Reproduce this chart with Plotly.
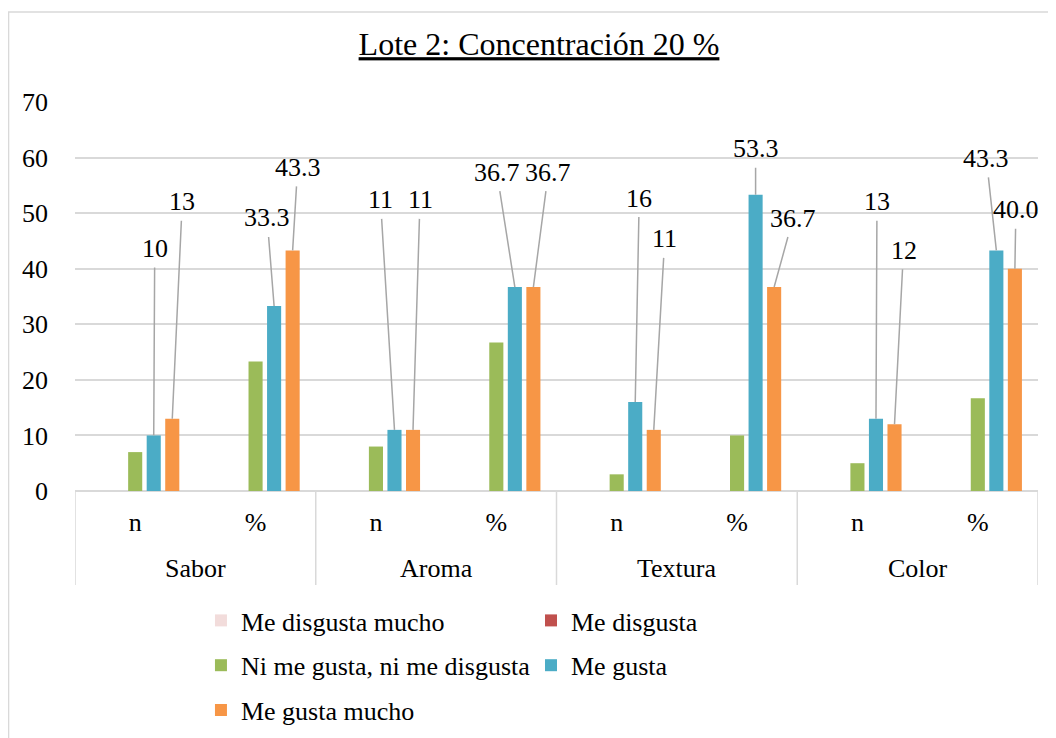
import plotly.graph_objects as go

# ---------------- data ----------------
attributes = ["Sabor", "Aroma", "Textura", "Color"]
measures = ["n", "%"]
series_names = ["Me disgusta mucho", "Me disgusta", "Ni me gusta, ni me disgusta",
                "Me gusta", "Me gusta mucho"]

me_disgusta_mucho = [0, 0, 0, 0, 0, 0, 0, 0]
me_disgusta = [0, 0, 0, 0, 0, 0, 0, 0]
ni_me_gusta = [7, 23.3, 8, 26.7, 3, 10.0, 5, 16.7]
me_gusta = [10, 33.3, 11, 36.7, 16, 53.3, 13, 43.3]
me_gusta_mucho = [13, 43.3, 11, 36.7, 11, 36.7, 12, 40.0]

# ---------------- styles ----------------
colors = ["#F2DCDB", "#C0504D", "#9BBB59", "#4BACC6", "#F79646"]
legend_ids = ["legend", "legend2", "legend", "legend2", "legend"]
labelled = [False, False, False, True, True]
# pixel offsets (dx, dy) of each data label from its bar top
label_offsets = {
    3: [(1, -187), (-7, -88), (-14, -230), (-18, -115), (4, -204), (0, -46), (1, -217), (-10, -92)],
    4: [(10, -217), (5, -83), (7, -230), (15, -115), (11, -191), (19, -69), (9, -174), (1, -59)],
}

FONT = "Liberation Serif"
TXT = "#000000"
GRID = "#D9D9D9"
bargap = 0.23
n_series = len(series_names)
PAGE_OFFSET = 8  # default body margin of the html page

all_values = [me_disgusta_mucho, me_disgusta, ni_me_gusta, me_gusta, me_gusta_mucho]
n_cat = len(attributes) * len(measures)
xs = list(range(n_cat))
tick_text = [m for _ in attributes for m in measures]

fig = go.Figure()
for j, (name, vals) in enumerate(zip(series_names, all_values)):
    fig.add_trace(go.Bar(
        x=xs, y=vals, name=name,
        marker=dict(color=colors[j], line=dict(width=0)),
        legend=legend_ids[j], legendgroup=name,
        hoverinfo="x+y+name",
    ))

# data labels with leader lines
slot = (1 - bargap) / n_series
annotations = []
for j in range(n_series):
    if not labelled[j]:
        continue
    offset = -(1 - bargap) / 2 + slot * (j + 0.5)
    for i, v in enumerate(all_values[j]):
        txt = f"{v:.0f}" if tick_text[i] == "n" else f"{v:.1f}"
        dx, dy = label_offsets[j][i]
        annotations.append(dict(
            x=i + offset, y=v, xref="x", yref="y",
            text=txt, showarrow=True, arrowhead=0, arrowwidth=1.5,
            arrowcolor="#A6A6A6", ax=dx, ay=dy, axref="pixel", ayref="pixel",
            borderpad=4, font=dict(family=FONT, size=26, color=TXT),
        ))

# group labels beneath the axis
for k, a in enumerate(attributes):
    annotations.append(dict(
        x=k * len(measures) + (len(measures) - 1) / 2, y=-0.2, xref="x", yref="paper",
        text=a, showarrow=False, yanchor="middle", xanchor="center",
        font=dict(family=FONT, size=26, color=TXT),
    ))

shapes = []
# table dividers
for k in range(len(attributes) + 1):
    xv = k * len(measures) - 0.5
    shapes.append(dict(type="line", xref="x", yref="paper", x0=xv, x1=xv,
                       y0=0, y1=-0.2416, line=dict(color=GRID, width=1.5)))
# outer chart border
shapes.append(dict(type="rect", xref="paper", yref="paper",
                   x0=-0.069, x1=1.03, y0=-0.66, y1=1.2314,
                   line=dict(color=GRID, width=1.5), fillcolor="rgba(0,0,0,0)",
                   layer="below"))

W, H = 1056 - PAGE_OFFSET, 738 - PAGE_OFFSET
fig.update_layout(
    width=W, height=H,
    margin=dict(l=75 - PAGE_OFFSET, r=18, t=102 - PAGE_OFFSET, b=247, autoexpand=False),
    paper_bgcolor="white", plot_bgcolor="white",
    barmode="group", bargap=bargap, bargroupgap=0.24,
    font=dict(family=FONT, size=26, color=TXT),
    title=dict(text="<u>Lote 2: Concentración 20 %</u>",
               x=(539 - PAGE_OFFSET) / W, xref="container", xanchor="center",
               y=1 - (44 - PAGE_OFFSET) / H, yref="container", yanchor="middle",
               font=dict(family=FONT, size=32, color=TXT)),
    xaxis=dict(range=[-0.5, n_cat - 0.5], tickmode="array", tickvals=xs,
               ticktext=tick_text, showgrid=False, zeroline=False,
               showline=False, ticks="", ticklabelstandoff=13, automargin=False,
               tickfont=dict(family=FONT, size=26, color=TXT)),
    yaxis=dict(range=[0, 70], dtick=10, showgrid=True, gridcolor=GRID,
               gridwidth=1.5, zeroline=True, zerolinecolor=GRID, zerolinewidth=1.5,
               showline=False, ticks="", ticklabelstandoff=26, automargin=False,
               tickfont=dict(family=FONT, size=26, color=TXT)),
    legend=dict(x=0.1308, y=-0.2725, xanchor="left", yanchor="top",
                orientation="v", tracegroupgap=8, bgcolor="rgba(0,0,0,0)",
                font=dict(family=FONT, size=26, color=TXT)),
    legend2=dict(x=0.4735, y=-0.2725, xanchor="left", yanchor="top",
                 orientation="v", tracegroupgap=8, bgcolor="rgba(0,0,0,0)",
                 font=dict(family=FONT, size=26, color=TXT)),
    annotations=annotations,
    shapes=shapes,
    showlegend=True,
)

fig.write_html("out.html")
